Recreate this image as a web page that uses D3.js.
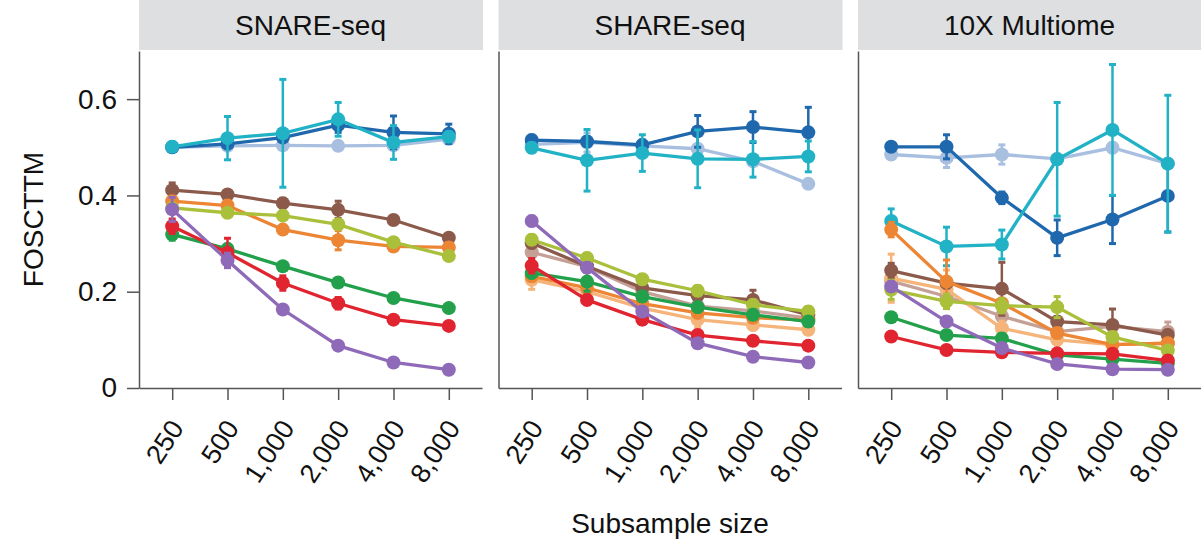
<html>
<head>
<meta charset="utf-8">
<script src="https://d3js.org/d3.v7.min.js"></script>
<style>
body{margin:0;background:#fff;}
svg{display:block;font-family:"Liberation Sans",Arial,Helvetica,sans-serif;}
</style>
</head>
<body>
<div id="chart"></div>
<script>
// x categories and panel titles
const sizeLabels = ["250", "500", "1,000", "2,000", "4,000", "8,000"];
const panels = ["SNARE-seq", "SHARE-seq", "10X Multiome"];
const yTicks = [0, 0.2, 0.4, 0.6];

// one row per panel (SNARE, SHARE, 10X); null = method not shown
const lightBlue    = [[0.500, 0.503, 0.504, 0.503, 0.504, 0.517],
                      [0.506, 0.510, 0.503, 0.497, 0.471, 0.424],
                      [0.485, 0.478, 0.485, 0.476, 0.499, 0.466]];
const lightBlueErr = [[0.005, 0.005, 0.005, 0.005, 0.005, 0.005],
                      [0.010, 0.020, 0.010, 0.005, 0.005, 0.005],
                      [0.005, 0.020, 0.020, 0.010, 0.010, 0.010]];
const darkBlue     = [[0.500, 0.507, 0.520, 0.546, 0.531, 0.528],
                      [0.515, 0.512, 0.505, 0.533, 0.542, 0.531],
                      [0.501, 0.501, 0.395, 0.312, 0.350, 0.399]];
const darkBlueErr  = [[0.005, 0.005, 0.008, 0.015, 0.034, 0.020],
                      [0.010, 0.010, 0.010, 0.033, 0.032, 0.052],
                      [0.008, 0.025, 0.012, 0.037, 0.050, 0.075]];
const cyan         = [[0.501, 0.519, 0.529, 0.558, 0.510, 0.522],
                      [0.499, 0.473, 0.488, 0.476, 0.475, 0.481],
                      [0.347, 0.294, 0.298, 0.475, 0.536, 0.466]];
const cyanErr      = [[0.010, 0.045, 0.112, 0.035, 0.035, 0.010],
                      [0.010, 0.064, 0.038, 0.060, 0.037, 0.032],
                      [0.025, 0.040, 0.030, 0.118, 0.136, 0.142]];
const pinkBrown    = [null,
                      [0.282, 0.252, 0.200, 0.170, 0.160, 0.145],
                      [0.222, 0.190, 0.149, 0.117, 0.128, 0.117]];
const pinkBrownErr = [null,
                      [0.010, 0.010, 0.010, 0.010, 0.010, 0.010],
                      [0.020, 0.015, 0.015, 0.010, 0.010, 0.020]];
const tan          = [null,
                      [0.225, 0.200, 0.166, 0.142, 0.131, 0.121],
                      [0.228, 0.205, 0.124, 0.100, 0.090, 0.093]];
const tanErr       = [null,
                      [0.020, 0.010, 0.010, 0.015, 0.010, 0.010],
                      [0.050, 0.040, 0.015, 0.010, 0.010, 0.015]];
const brown        = [[0.411, 0.402, 0.384, 0.370, 0.349, 0.312],
                      [0.301, 0.253, 0.208, 0.192, 0.183, 0.152],
                      [0.244, 0.218, 0.206, 0.138, 0.131, 0.110]];
const brownErr     = [[0.015, 0.005, 0.010, 0.018, 0.005, 0.005],
                      [0.010, 0.010, 0.010, 0.010, 0.020, 0.010],
                      [0.015, 0.010, 0.055, 0.010, 0.033, 0.010]];
const orange       = [[0.388, 0.379, 0.329, 0.307, 0.294, 0.292],
                      [0.232, 0.208, 0.175, 0.156, 0.146, 0.141],
                      [0.329, 0.221, 0.176, 0.114, 0.090, 0.093]];
const orangeErr    = [[0.010, 0.010, 0.008, 0.020, 0.008, 0.010],
                      [0.010, 0.010, 0.010, 0.010, 0.010, 0.010],
                      [0.015, 0.045, 0.010, 0.010, 0.010, 0.010]];
const olive        = [[0.374, 0.364, 0.358, 0.340, 0.303, 0.274],
                      [0.308, 0.270, 0.226, 0.202, 0.173, 0.159],
                      [0.204, 0.180, 0.171, 0.168, 0.106, 0.078]];
const oliveErr     = [[0.005, 0.005, 0.005, 0.005, 0.005, 0.005],
                      [0.010, 0.010, 0.010, 0.010, 0.010, 0.010],
                      [0.020, 0.015, 0.015, 0.022, 0.010, 0.010]];
const green        = [[0.319, 0.289, 0.253, 0.219, 0.187, 0.166],
                      [0.239, 0.221, 0.190, 0.168, 0.152, 0.138],
                      [0.147, 0.110, 0.103, 0.069, 0.060, 0.051]];
const greenErr     = [[0.012, 0.005, 0.005, 0.005, 0.005, 0.005],
                      [0.010, 0.020, 0.010, 0.010, 0.010, 0.010],
                      [0.005, 0.005, 0.010, 0.005, 0.005, 0.005]];
const red          = [[0.336, 0.281, 0.218, 0.176, 0.142, 0.129],
                      [0.254, 0.183, 0.142, 0.110, 0.098, 0.088],
                      [0.107, 0.079, 0.074, 0.072, 0.071, 0.057]];
const redErr       = [[0.015, 0.030, 0.015, 0.012, 0.005, 0.005],
                      [0.015, 0.010, 0.010, 0.010, 0.005, 0.005],
                      [0.005, 0.005, 0.005, 0.005, 0.005, 0.005]];
const purple       = [[0.371, 0.265, 0.163, 0.088, 0.053, 0.038],
                      [0.347, 0.250, 0.159, 0.093, 0.065, 0.053],
                      [0.211, 0.138, 0.083, 0.050, 0.039, 0.038]];
const purpleErr    = [[0.025, 0.015, 0.005, 0.005, 0.005, 0.005],
                      [0.010, 0.010, 0.010, 0.005, 0.005, 0.005],
                      [0.010, 0.010, 0.005, 0.005, 0.005, 0.005]];

// drawing order (first = bottom)
const series = [
  {v: lightBlue, e: lightBlueErr, c: "#a9bfe0"},
  {v: darkBlue,  e: darkBlueErr,  c: "#1f68ad"},
  {v: cyan,      e: cyanErr,      c: "#22b2c6"},
  {v: pinkBrown, e: pinkBrownErr, c: "#c4a096"},
  {v: tan,       e: tanErr,       c: "#f5b47a"},
  {v: brown,     e: brownErr,     c: "#8c5a4b"},
  {v: orange,    e: orangeErr,    c: "#ec8635"},
  {v: olive,     e: oliveErr,     c: "#aabf3a"},
  {v: green,     e: greenErr,     c: "#22a04b"},
  {v: red,       e: redErr,       c: "#e02530"},
  {v: purple,    e: purpleErr,    c: "#8f6ab8"}
];

const W = 1201, H = 543;
const left = 139, panelW = 343, gap = 16.5;
const plotTop = 51, plotBottom = 388;
const axisCol = "#555";

const svg = d3.select("#chart").append("svg")
  .attr("width", W).attr("height", H);

const y = d3.scaleLinear().domain([0, 0.7]).range([plotBottom, plotTop]);

panels.forEach((name, p) => {
  const x0 = left + p * (panelW + gap);
  const x = d3.scalePoint().domain(sizeLabels).range([x0, x0 + panelW]).padding(0.6);
  const g = svg.append("g");

  // strip
  g.append("rect").attr("x", x0).attr("y", 0).attr("width", panelW + 1).attr("height", 50)
    .attr("fill", "#dedfe1");
  g.append("text").attr("x", x0 + panelW / 2).attr("y", 35).attr("text-anchor", "middle")
    .attr("font-size", 28).attr("fill", "#111").text(name);

  // y axis
  const ya = g.append("g").attr("transform", `translate(${x0},0)`)
    .call(d3.axisLeft(y).tickValues(yTicks).tickSize(p === 0 ? 12 : 0).tickSizeOuter(0)
      .tickPadding(10).tickFormat(d => d === 0 ? "0" : d3.format(".1f")(d)));
  ya.select(".domain").attr("stroke", axisCol).attr("stroke-width", 1.5);
  ya.selectAll(".tick line").attr("stroke", axisCol).attr("stroke-width", 1.5);
  ya.selectAll(".tick text").attr("font-size", 28).attr("fill", "#111")
    .attr("font-family", "Liberation Sans, Arial, sans-serif");
  if (p > 0) ya.selectAll(".tick text").remove();

  // x axis
  const xa = g.append("g").attr("transform", `translate(0,${plotBottom})`)
    .call(d3.axisBottom(x).tickSize(12).tickSizeOuter(0));
  xa.select(".domain").attr("stroke", axisCol).attr("stroke-width", 1.5);
  xa.selectAll(".tick line").attr("stroke", axisCol).attr("stroke-width", 1.5);
  xa.selectAll(".tick text")
    .attr("font-size", 27).attr("fill", "#111")
    .attr("font-family", "Liberation Sans, Arial, sans-serif")
    .attr("text-anchor", "end")
    .attr("dy", null).attr("y", null)
    .attr("transform", "translate(12,40) rotate(-57)");

  // series
  const line = d3.line().x((d, i) => x(sizeLabels[i])).y(d => y(d));
  series.forEach(s => {
    const vals = s.v[p];
    if (!vals) return;
    const errs = s.e[p];
    const sg = g.append("g");
    const pts = vals.map((v, i) => ({v, e: errs[i], k: sizeLabels[i]}));
    sg.append("path").datum(vals).attr("d", line).attr("fill", "none")
      .attr("stroke", s.c).attr("stroke-width", 3.3);
    sg.selectAll("line.bar").data(pts).join("line").attr("class", "bar")
      .attr("x1", d => x(d.k)).attr("x2", d => x(d.k))
      .attr("y1", d => y(d.v - d.e)).attr("y2", d => y(d.v + d.e))
      .attr("stroke", s.c).attr("stroke-width", 2.5);
    ["lo", "hi"].forEach(side => {
      sg.selectAll("line." + side).data(pts).join("line").attr("class", side)
        .attr("x1", d => x(d.k) - 3.5).attr("x2", d => x(d.k) + 3.5)
        .attr("y1", d => y(side === "lo" ? d.v - d.e : d.v + d.e))
        .attr("y2", d => y(side === "lo" ? d.v - d.e : d.v + d.e))
        .attr("stroke", s.c).attr("stroke-width", 3);
    });
    sg.selectAll("circle").data(pts).join("circle")
      .attr("cx", d => x(d.k)).attr("cy", d => y(d.v)).attr("r", 7)
      .attr("fill", s.c);
  });
});

// axis titles
svg.append("text").attr("transform", `translate(43,${(plotTop + plotBottom) / 2}) rotate(-90)`)
  .attr("text-anchor", "middle").attr("font-size", 28).attr("fill", "#111").text("FOSCTTM");
svg.append("text").attr("x", 670).attr("y", 533).attr("text-anchor", "middle")
  .attr("font-size", 28).attr("fill", "#111").text("Subsample size");
</script>
</body>
</html>
